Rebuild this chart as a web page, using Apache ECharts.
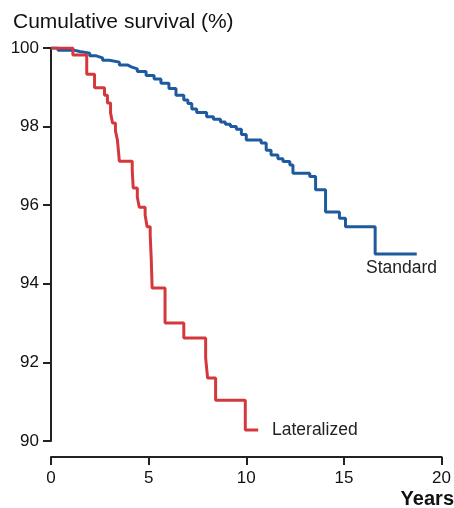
<!DOCTYPE html>
<html>
<head>
<meta charset="utf-8">
<script src="https://cdn.jsdelivr.net/npm/echarts@6/dist/echarts.min.js"></script>
<style>
html,body{margin:0;padding:0;background:#fff;}
#chart{width:454px;height:508px;}
</style>
</head>
<body>
<div id="chart"></div>
<script>
var xTicks = [0, 5, 10, 15, 20];
var yTicks = [90, 92, 94, 96, 98, 100];

var standardTimes = [0, 0.36, 1.22, 1.47, 1.98, 2.32, 2.64, 2.99, 3.50, 3.91, 4.11, 4.42, 4.87, 5.28, 5.63, 6.04, 6.40, 6.80, 7.01, 7.21, 7.46, 7.97, 8.32, 8.68, 8.93, 9.19, 9.49, 9.75, 10.00, 10.76, 11.02, 11.27, 11.62, 11.88, 12.23, 12.39, 13.25, 13.55, 14.06, 14.77, 15.08, 16.60, 18.73];
var standardValues = [100, 99.94, 99.91, 99.87, 99.80, 99.75, 99.69, 99.64, 99.57, 99.52, 99.47, 99.40, 99.30, 99.21, 99.10, 98.97, 98.80, 98.68, 98.59, 98.45, 98.36, 98.25, 98.19, 98.12, 98.06, 98.00, 97.93, 97.80, 97.66, 97.58, 97.40, 97.28, 97.18, 97.11, 97.02, 96.81, 96.73, 96.39, 95.83, 95.67, 95.45, 94.76, 94.76];

var lateralTimes = [0, 1.12, 1.83, 2.23, 2.74, 2.89, 3.05, 3.15, 3.30, 3.40, 3.45, 3.50, 4.16, 4.21, 4.42, 4.52, 4.82, 4.92, 5.08, 5.13, 5.18, 5.84, 6.80, 7.92, 8.02, 8.43, 9.95, 10.61];
var lateralValues = [100, 99.82, 99.33, 98.99, 98.80, 98.60, 98.35, 98.09, 97.89, 97.66, 97.40, 97.12, 96.90, 96.44, 96.21, 95.95, 95.75, 95.45, 95.24, 94.68, 93.89, 93.00, 92.62, 92.11, 91.60, 91.04, 90.28, 90.28];

function pairs(ts, vs) { return ts.map(function (t, i) { return [t, vs[i]]; }); }

var FONT = '"Liberation Sans", Arial, Helvetica, sans-serif';
var chart = echarts.init(document.getElementById('chart'));
chart.setOption({
  animation: false,
  backgroundColor: '#ffffff',
  grid: { left: 51, top: 48, right: 9, bottom: 67, containLabel: false },
  xAxis: {
    type: 'value', min: xTicks[0], max: xTicks[xTicks.length - 1], interval: 5,
    offset: 16,
    axisLine: { show: true, lineStyle: { color: '#222', width: 2 } },
    axisTick: { show: true, length: 8, lineStyle: { color: '#222', width: 2 } },
    axisLabel: { margin: 13, fontSize: 17, color: '#111', fontFamily: FONT },
    splitLine: { show: false }
  },
  yAxis: {
    type: 'value', min: yTicks[0], max: yTicks[yTicks.length - 1], interval: 2,
    axisLine: { show: true, lineStyle: { color: '#222', width: 2 } },
    axisTick: { show: true, length: 8, lineStyle: { color: '#222', width: 2 } },
    axisLabel: { margin: 12, fontSize: 17, color: '#111', fontFamily: FONT },
    splitLine: { show: false }
  },
  series: [
    {
      name: 'Standard', type: 'line', step: 'end', symbol: 'none',
      data: pairs(standardTimes, standardValues),
      lineStyle: { color: '#1f5a9e', width: 3 }, z: 3
    },
    {
      name: 'Lateralized', type: 'line', step: 'end', symbol: 'none',
      data: pairs(lateralTimes, lateralValues),
      lineStyle: { color: '#d4383d', width: 3 }, z: 4
    }
  ],
  graphic: [
    { type: 'text', left: 13, top: 12, style: { text: 'Cumulative survival (%)', font: '21px ' + FONT, fill: '#111' } },
    { type: 'text', right: 0, top: 489, style: { text: 'Years', font: 'bold 20px ' + FONT, fill: '#111' } },
    { type: 'text', left: 366, top: 259, style: { text: 'Standard', font: '17.5px ' + FONT, fill: '#222' } },
    { type: 'text', left: 272, top: 421, style: { text: 'Lateralized', font: '17.5px ' + FONT, fill: '#222' } }
  ]
});
</script>
</body>
</html>
